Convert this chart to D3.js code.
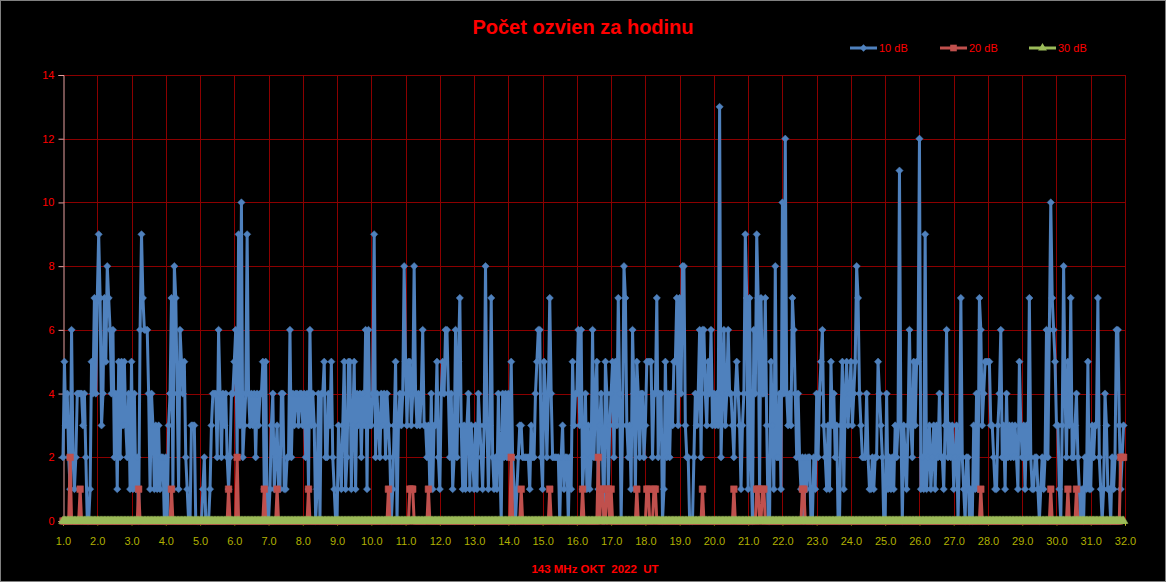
<!DOCTYPE html>
<html><head><meta charset="utf-8">
<script src="https://cdn.jsdelivr.net/npm/d3@7/dist/d3.min.js"></script>
<style>html,body{margin:0;padding:0;background:#000;}svg{display:block;}</style>
</head><body>
<svg id="chart" width="1166" height="582"></svg>
<script>
const chartTitle = "Počet ozvien za hodinu";
const xAxisTitle = "143 MHz OKT  2022  UT";
const seriesNames = ["10 dB", "20 dB", "30 dB"];
const yTickValues = [0, 2, 4, 6, 8, 10, 12, 14];
const xTickLabels = ["1.0","2.0","3.0","4.0","5.0","6.0","7.0","8.0","9.0","10.0","11.0","12.0","13.0","14.0","15.0","16.0",
  "17.0","18.0","19.0","20.0","21.0","22.0","23.0","24.0","25.0","26.0","27.0","28.0","29.0","30.0","31.0","32.0"];

// hourly counts, one row per day (hours 0..23)
const db10 = [
  [2,5,3,4,2,1,6,2,1,2,4,4,4,4,3,4,2,0,0,1,5,4,7,4],
  [7,9,7,3,4,7,5,8,7,6,4,6,2,4,1,5,2,5,3,5,3,2,4,1],
  [5,1,4,1,2,0,6,9,7,6,6,6,4,1,4,3,1,3,1,3,1,2,2,0],
  [2,0,3,4,7,1,8,7,4,1,6,5,4,5,2,1,0,0,3,3,3,0,0,0],
  [0,0,1,2,0,0,0,1,3,4,4,4,2,6,4,2,4,3,4,2,1,2,4,4],
  [5,6,2,9,3,10,2,3,4,9,4,3,4,3,4,2,4,3,4,4,5,1,5,0],
  [0,1,3,4,1,2,3,1,1,4,4,1,1,2,2,6,2,4,3,4,4,3,4,4],
  [3,4,2,4,1,6,3,4,3,0,1,4,0,4,4,5,2,2,4,3,5,2,1,0],
  [0,3,2,1,3,5,1,2,5,5,1,3,5,1,4,3,4,2,4,3,6,1,6,3],
  [3,4,9,2,4,3,2,4,3,4,2,4,3,2,0,1,3,5,0,3,4,3,4,8],
  [5,3,5,5,3,4,8,4,3,4,3,4,6,3,3,2,3,1,4,1,3,3,5,2],
  [1,4,5,4,6,6,4,2,4,1,2,6,2,5,7,3,1,3,1,3,4,1,3,2],
  [1,3,1,4,3,2,1,3,8,3,1,3,7,2,1,2,1,4,2,0,4,2,4,2],
  [4,2,5,2,1,0,1,2,3,3,2,2,2,2,2,1,3,2,2,4,5,6,6,2],
  [1,5,4,2,4,7,4,2,2,2,2,2,0,2,3,1,2,2,0,2,1,5,3,4],
  [4,6,3,6,1,2,4,1,3,1,2,6,2,4,5,1,3,4,2,0,5,4,1,3],
  [4,5,2,5,3,7,4,0,3,8,7,3,2,3,1,6,4,1,5,4,2,4,4,2],
  [3,5,5,5,5,2,4,4,7,2,4,4,0,1,5,2,4,2,4,3,5,5,7,3],
  [7,4,8,8,3,2,2,0,0,0,2,4,3,4,6,2,6,6,4,3,5,4,6,3],
  [4,3,4,3,13,2,4,6,3,4,6,4,4,3,2,4,5,4,3,1,3,4,9,7],
  [1,7,2,0,6,4,9,7,1,7,4,4,7,3,0,0,5,3,1,8,2,2,4,1],
  [10,4,12,4,3,4,3,7,6,4,2,4,2,1,2,0,2,1,2,2,0,0,2,1],
  [4,2,4,5,6,3,2,1,3,1,5,3,4,2,3,0,0,3,5,1,4,5,3,4],
  [5,3,4,5,8,7,4,3,2,2,2,4,2,1,1,2,1,2,2,5,4,3,2,0],
  [0,4,1,2,1,2,1,3,2,3,11,3,0,3,2,1,3,6,3,2,5,3,5,5],
  [12,1,2,1,9,1,2,3,1,2,3,1,3,2,4,2,2,1,3,6,2,3,2,3],
  [1,2,3,0,2,7,2,1,0,2,2,0,1,0,3,1,4,1,7,6,3,4,5,5],
  [5,5,3,3,2,1,1,3,4,6,2,3,1,4,2,3,2,3,2,3,2,1,5,3],
  [2,3,1,3,2,7,2,1,1,2,2,1,0,1,2,1,2,6,2,6,10,7,6,5],
  [3,3,1,0,3,8,4,2,5,3,7,2,2,3,4,2,1,0,1,0,2,1,5,1],
  [1,3,2,3,3,7,2,1,0,1,4,3,1,1,0,2,1,2,6,6,3,1,2,3]
];
const db20 = [
  [0,0,0,0,0,2,0,0,0,0,0,0,1,0,0,0,0,0,0,0,0,0,0,0],
  [0,0,0,0,0,0,0,0,0,0,0,0,0,0,0,0,0,0,0,0,0,0,0,0],
  [0,0,0,0,0,1,0,0,0,0,0,0,0,0,0,0,0,0,0,0,0,0,0,0],
  [0,0,0,0,1,0,0,0,0,0,0,0,0,0,0,0,0,0,0,0,0,0,0,0],
  [0,0,0,0,0,0,0,0,0,0,0,0,0,0,0,0,0,0,0,0,1,0,0,0],
  [0,0,2,0,0,0,0,0,0,0,0,0,0,0,0,0,0,0,0,0,0,1,0,0],
  [0,0,0,0,0,0,1,0,0,0,0,0,0,0,0,0,0,0,0,0,0,0,0,0],
  [0,0,0,0,1,0,0,0,0,0,0,0,0,0,0,0,0,0,0,0,0,0,0,0],
  [0,0,0,0,0,0,0,0,0,0,0,0,0,0,0,0,0,0,0,0,0,0,0,0],
  [0,0,0,0,0,0,0,0,0,0,0,0,1,0,0,0,0,0,0,0,0,0,0,0],
  [0,0,0,1,1,1,0,0,0,0,0,0,0,0,0,0,1,0,0,0,0,0,0,0],
  [0,0,0,0,0,0,0,0,0,0,0,0,0,0,0,0,0,0,0,0,0,0,0,0],
  [0,0,0,0,0,0,0,0,0,0,0,0,0,0,0,0,0,0,0,0,0,0,0,0],
  [0,0,2,0,0,0,0,0,0,1,0,0,0,0,0,0,0,0,0,0,0,0,0,0],
  [0,0,0,0,0,1,0,0,0,0,0,0,0,0,0,0,0,0,0,0,0,0,0,0],
  [0,0,0,0,1,0,0,0,0,0,0,0,0,0,0,2,0,1,1,0,0,1,1,0],
  [1,0,0,0,0,0,0,0,0,0,0,0,0,0,0,0,0,0,1,0,0,0,0,0],
  [0,1,1,0,0,0,1,1,0,0,0,0,0,0,0,0,0,0,0,0,0,0,0,0],
  [0,0,0,0,0,0,0,0,0,0,0,0,0,0,0,0,1,0,0,0,0,0,0,0],
  [0,0,0,0,0,0,0,0,0,0,0,0,0,0,1,0,0,0,0,0,0,0,0,0],
  [0,0,0,0,0,0,1,1,0,0,1,1,0,0,0,0,0,0,0,0,0,0,0,0],
  [0,0,0,0,0,0,0,0,0,0,0,0,0,0,1,1,0,0,0,0,0,0,0,0],
  [0,0,0,0,0,0,0,0,0,0,0,0,0,0,0,0,0,0,0,0,0,0,0,0],
  [0,0,0,0,0,0,0,0,0,0,0,0,0,0,0,0,0,0,0,0,0,0,0,0],
  [0,0,0,0,0,0,0,0,0,0,0,0,0,0,0,0,0,0,0,0,0,0,0,0],
  [0,0,0,0,0,0,0,0,0,0,0,0,0,0,0,0,0,0,0,0,0,0,0,0],
  [0,0,0,0,0,0,0,0,0,0,0,0,0,0,0,0,0,0,0,1,0,0,0,0],
  [0,0,0,0,0,0,0,0,0,0,0,0,0,0,0,0,0,0,0,0,0,0,0,0],
  [0,0,0,0,0,0,0,0,0,0,0,0,0,0,0,0,0,0,0,0,1,0,0,0],
  [0,0,0,0,0,0,0,0,1,0,0,0,0,0,1,0,0,0,0,0,0,0,0,0],
  [0,0,0,0,0,0,0,0,0,0,0,0,0,0,0,0,0,0,0,0,0,2,2,2]
];
const db30 = [
  [0,0,0,0,0,0,0,0,0,0,0,0,0,0,0,0,0,0,0,0,0,0,0,0],
  [0,0,0,0,0,0,0,0,0,0,0,0,0,0,0,0,0,0,0,0,0,0,0,0],
  [0,0,0,0,0,0,0,0,0,0,0,0,0,0,0,0,0,0,0,0,0,0,0,0],
  [0,0,0,0,0,0,0,0,0,0,0,0,0,0,0,0,0,0,0,0,0,0,0,0],
  [0,0,0,0,0,0,0,0,0,0,0,0,0,0,0,0,0,0,0,0,0,0,0,0],
  [0,0,0,0,0,0,0,0,0,0,0,0,0,0,0,0,0,0,0,0,0,0,0,0],
  [0,0,0,0,0,0,0,0,0,0,0,0,0,0,0,0,0,0,0,0,0,0,0,0],
  [0,0,0,0,0,0,0,0,0,0,0,0,0,0,0,0,0,0,0,0,0,0,0,0],
  [0,0,0,0,0,0,0,0,0,0,0,0,0,0,0,0,0,0,0,0,0,0,0,0],
  [0,0,0,0,0,0,0,0,0,0,0,0,0,0,0,0,0,0,0,0,0,0,0,0],
  [0,0,0,0,0,0,0,0,0,0,0,0,0,0,0,0,0,0,0,0,0,0,0,0],
  [0,0,0,0,0,0,0,0,0,0,0,0,0,0,0,0,0,0,0,0,0,0,0,0],
  [0,0,0,0,0,0,0,0,0,0,0,0,0,0,0,0,0,0,0,0,0,0,0,0],
  [0,0,0,0,0,0,0,0,0,0,0,0,0,0,0,0,0,0,0,0,0,0,0,0],
  [0,0,0,0,0,0,0,0,0,0,0,0,0,0,0,0,0,0,0,0,0,0,0,0],
  [0,0,0,0,0,0,0,0,0,0,0,0,0,0,0,0,0,0,0,0,0,0,0,0],
  [0,0,0,0,0,0,0,0,0,0,0,0,0,0,0,0,0,0,0,0,0,0,0,0],
  [0,0,0,0,0,0,0,0,0,0,0,0,0,0,0,0,0,0,0,0,0,0,0,0],
  [0,0,0,0,0,0,0,0,0,0,0,0,0,0,0,0,0,0,0,0,0,0,0,0],
  [0,0,0,0,0,0,0,0,0,0,0,0,0,0,0,0,0,0,0,0,0,0,0,0],
  [0,0,0,0,0,0,0,0,0,0,0,0,0,0,0,0,0,0,0,0,0,0,0,0],
  [0,0,0,0,0,0,0,0,0,0,0,0,0,0,0,0,0,0,0,0,0,0,0,0],
  [0,0,0,0,0,0,0,0,0,0,0,0,0,0,0,0,0,0,0,0,0,0,0,0],
  [0,0,0,0,0,0,0,0,0,0,0,0,0,0,0,0,0,0,0,0,0,0,0,0],
  [0,0,0,0,0,0,0,0,0,0,0,0,0,0,0,0,0,0,0,0,0,0,0,0],
  [0,0,0,0,0,0,0,0,0,0,0,0,0,0,0,0,0,0,0,0,0,0,0,0],
  [0,0,0,0,0,0,0,0,0,0,0,0,0,0,0,0,0,0,0,0,0,0,0,0],
  [0,0,0,0,0,0,0,0,0,0,0,0,0,0,0,0,0,0,0,0,0,0,0,0],
  [0,0,0,0,0,0,0,0,0,0,0,0,0,0,0,0,0,0,0,0,0,0,0,0],
  [0,0,0,0,0,0,0,0,0,0,0,0,0,0,0,0,0,0,0,0,0,0,0,0],
  [0,0,0,0,0,0,0,0,0,0,0,0,0,0,0,0,0,0,0,0,0,0,0,0]
];

const W = 1166, H = 582;
const M = {left: 63, right: 1125, top: 75, bottom: 521};
const colors = {blue: "#4F81BD", red: "#C0504D", green: "#9BBB59"};
const FONT = "'Liberation Sans', Arial, sans-serif";

const svg = d3.select("#chart");
svg.append("rect").attr("x", 0).attr("y", 0).attr("width", W).attr("height", H).attr("fill", "#000");
svg.append("rect").attr("x", 0.5).attr("y", 0.5).attr("width", W - 1).attr("height", H - 1)
  .attr("fill", "none").attr("stroke", "#808080").attr("stroke-width", 1);

const x = d3.scaleLinear().domain([1, 32]).range([M.left, M.right]);
const y = d3.scaleLinear().domain([0, 14]).range([M.bottom, M.top]);

const toPoints = rows => rows.flatMap((row, d) => row.map((v, h) => ({t: 1 + d + h / 24, v})));
const s10 = toPoints(db10), s20 = toPoints(db20), s30 = toPoints(db30);

// grid
const grid = svg.append("g");
grid.selectAll("line.h").data(yTickValues.filter(v => v > 0)).join("line")
  .attr("x1", M.left).attr("x2", M.right)
  .attr("y1", d => Math.round(y(d)) + 0.5).attr("y2", d => Math.round(y(d)) + 0.5)
  .attr("stroke", "#8B0000").attr("stroke-width", 1);
grid.selectAll("line.v").data(d3.range(2, 33)).join("line")
  .attr("y1", M.top).attr("y2", M.bottom)
  .attr("x1", d => Math.round(x(d)) + 0.5).attr("x2", d => Math.round(x(d)) + 0.5)
  .attr("stroke", "#8B0000").attr("stroke-width", 1);

// axes
const yAxis = d3.axisLeft(y).tickValues(yTickValues).tickFormat(d3.format("d")).tickSize(5).tickPadding(4);
const gy = svg.append("g").attr("transform", `translate(${M.left + 0.5},0)`).call(yAxis);
gy.select(".domain").attr("stroke", "#E8A0A0");
gy.selectAll(".tick line").attr("stroke", "#E8A0A0");
gy.selectAll("text").attr("fill", "#FF0000").style("font-family", FONT).style("font-size", "11px");

const xAxis = d3.axisBottom(x).tickValues(d3.range(1, 33)).tickFormat((d, i) => xTickLabels[i]).tickSize(4).tickPadding(12);
const gx = svg.append("g").attr("transform", `translate(0,${M.bottom + 0.5})`).call(xAxis);
gx.select(".domain").attr("stroke", "#E8A0A0");
gx.selectAll(".tick line").attr("stroke", "#C8C800");
gx.selectAll("text").attr("fill", "#B0B000").style("font-family", FONT).style("font-size", "11px");

// series
const line = d3.line().x(d => x(d.t)).y(d => y(d.v));
function drawSeries(data, color, symType, size, width) {
  const g = svg.append("g");
  g.append("path").datum(data).attr("d", line).attr("fill", "none")
    .attr("stroke", color).attr("stroke-width", width).attr("stroke-linejoin", "round");
  const sym = d3.symbol().type(symType).size(size);
  g.selectAll("path.m").data(data).join("path").attr("class", "m")
    .attr("transform", d => `translate(${x(d.t)},${y(d.v)})`)
    .attr("d", sym).attr("fill", color).attr("stroke", color).attr("stroke-width", 0.5);
}
drawSeries(s10, colors.blue, d3.symbolDiamond2, 34, 3);
drawSeries(s20, colors.red, d3.symbolSquare, 44, 3);
drawSeries(s30, colors.green, d3.symbolTriangle, 34, 3);

// title
svg.append("text").attr("x", 583).attr("y", 34).attr("text-anchor", "middle")
  .attr("fill", "#FF0000").style("font-family", FONT).style("font-weight", "bold").style("font-size", "20px")
  .text(chartTitle);

// x axis title
svg.append("text").attr("x", 595).attr("y", 573).attr("text-anchor", "middle")
  .attr("fill", "#FF0000").style("font-family", FONT).style("font-weight", "bold").style("font-size", "11.5px")
  .style("white-space", "pre").attr("xml:space", "preserve")
  .text(xAxisTitle);

// legend
const legendItems = [
  {name: seriesNames[0], color: colors.blue, sym: d3.symbolDiamond2, size: 34, x0: 850},
  {name: seriesNames[1], color: colors.red, sym: d3.symbolSquare, size: 44, x0: 940},
  {name: seriesNames[2], color: colors.green, sym: d3.symbolTriangle, size: 34, x0: 1029}
];
const lg = svg.append("g");
legendItems.forEach(it => {
  lg.append("line").attr("x1", it.x0).attr("x2", it.x0 + 27).attr("y1", 48).attr("y2", 48)
    .attr("stroke", it.color).attr("stroke-width", 3);
  lg.append("path").attr("transform", `translate(${it.x0 + 13.5},48)`)
    .attr("d", d3.symbol().type(it.sym).size(it.size)).attr("fill", it.color);
  lg.append("text").attr("x", it.x0 + 29).attr("y", 52).attr("fill", "#FF0000")
    .style("font-family", FONT).style("font-size", "11px").text(it.name);
});
</script>
</body></html>
